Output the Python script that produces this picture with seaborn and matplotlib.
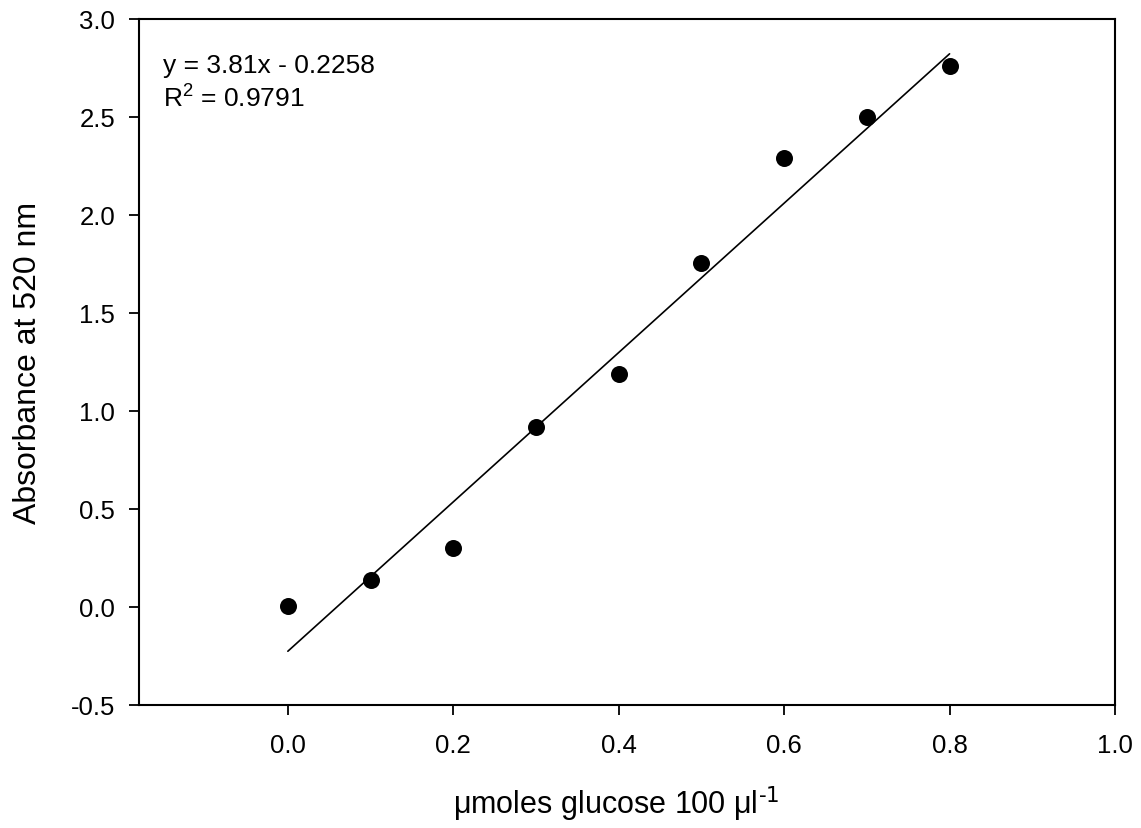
import numpy as np
import pandas as pd
import seaborn as sns
import matplotlib.pyplot as plt

# glucose standard curve
glucose = [0.0, 0.1, 0.2, 0.3, 0.4, 0.5, 0.6, 0.7, 0.8]
absorbance = [0.005, 0.14, 0.30, 0.92, 1.19, 1.755, 2.29, 2.50, 2.76]
slope, intercept = 3.81, -0.2258
r_squared = 0.9791

x_ticks = [0.0, 0.2, 0.4, 0.6, 0.8, 1.0]
y_ticks = [-0.5, 0.0, 0.5, 1.0, 1.5, 2.0, 2.5, 3.0]

sns.set_style("ticks")
plt.rcParams['font.family'] = ['Liberation Sans', 'DejaVu Sans']
plt.rcParams['mathtext.default'] = 'regular'
plt.rcParams['text.color'] = 'black'
plt.rcParams['axes.labelcolor'] = 'black'
plt.rcParams['xtick.color'] = 'black'
plt.rcParams['ytick.color'] = 'black'

df = pd.DataFrame({'x': glucose, 'y': absorbance})
fit_x = np.array([glucose[0], glucose[-1]])
fit = pd.DataFrame({'x': fit_x, 'y': slope * fit_x + intercept})

fig = plt.figure(figsize=(11.41, 8.29), dpi=100)
ax = fig.add_axes([0.1218, 0.1484, 0.8554, 0.8275])

sns.lineplot(data=fit, x='x', y='y', color='black', linewidth=1.2, ax=ax)
sns.scatterplot(data=df, x='x', y='y', color='black', s=150, edgecolor='black',
                linewidth=0, zorder=3, ax=ax)

ax.set_xlim(-0.18, 1.0)
ax.set_ylim(-0.5, 3.0)
ax.set_xticks(x_ticks)
ax.set_yticks(y_ticks)
ax.set_xticklabels([f'{t:.1f}' for t in x_ticks])
ax.set_yticklabels([f'{t:.1f}' for t in y_ticks])
ax.tick_params(direction='out', length=7, width=1.3, labelsize=18.5,
               color='black', labelcolor='black')
ax.tick_params(axis='x', pad=13)
ax.tick_params(axis='y', pad=10)
for s in ax.spines.values():
    s.set_linewidth(1.5)
    s.set_color('black')

ax.set_xlabel(r'μmoles glucose 100 μl$^{\text{-1}}$', fontsize=22)
ax.set_ylabel('Absorbance at 520 nm', fontsize=23, labelpad=20)
ax.xaxis.set_label_coords(0.489, -0.114)
ax.xaxis.label.set_va('top')

ax.text(0.025, 0.95, f'y = {slope}x - {abs(intercept)}\nR$^2$ = {r_squared}',
        transform=ax.transAxes, fontsize=19, va='top', ha='left', linespacing=1.3)

fig.savefig('out.png', dpi=100)
